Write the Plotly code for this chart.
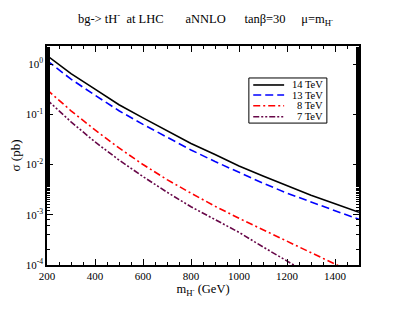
import plotly.graph_objects as go

m_H = [200, 300, 400, 500, 600, 700, 800, 900, 1000, 1100, 1200, 1300, 1400, 1500]
sigma_14 = [1.479, 0.6457, 0.3162, 0.1549, 0.0851, 0.04677, 0.02630, 0.01585, 0.009333,
            0.005888, 0.003802, 0.002455, 0.00166, 0.001122]
sigma_13 = [1.175, 0.5012, 0.2399, 0.1175, 0.0631, 0.03467, 0.01950, 0.01148, 0.006918,
            0.004266, 0.002692, 0.001778, 0.001202, 0.000813]
sigma_8 = [0.309, 0.1175, 0.04898, 0.02138, 0.0100, 0.005012, 0.002692, 0.001479, 0.000851,
           0.000501, 0.000295, 0.000174, 0.000102, 0.0000617]
sigma_7 = [0.195, 0.0708, 0.02818, 0.01230, 0.005754, 0.002818, 0.001445, 0.000794, 0.000447,
           0.000229, 0.0001175, 0.0000631, 0.000035, 0.00002]

series_names = ["14 TeV", "13 TeV", "8 TeV", "7 TeV"]
series_values = [sigma_14, sigma_13, sigma_8, sigma_7]
series_colors = ["#000000", "#0000ff", "#ff0000", "#670748"]
series_dashes = ["solid", "8px,4px", "7px,3px,2px,3px", "6px,2px,2px,2px,2px,2px"]

y_tickvals = [1e-4, 1e-3, 1e-2, 1e-1, 1]
y_ticktext = ["10<sup>-4</sup>", "10<sup>-3</sup>", "10<sup>-2</sup>", "10<sup>-1</sup>", "10<sup>0</sup>"]
x_tickvals = [200, 400, 600, 800, 1000, 1200, 1400]

serif = "'Liberation Serif', 'Times New Roman', serif"
NB = "\u00a0"

fig = go.Figure()
for name, ys, color, dash in zip(series_names, series_values, series_colors, series_dashes):
    fig.add_trace(go.Scatter(x=m_H, y=ys, mode="lines", name=name, showlegend=False,
                             line=dict(color=color, width=1.6, dash=dash)))

# hand-drawn legend box (paper coordinates)
shapes = [dict(type="rect", xref="paper", yref="paper", x0=0.647, x1=0.897, y0=0.648, y1=0.854,
               line=dict(color="black", width=1), fillcolor="white", layer="above")]
annotations = []
row_y = [0.822, 0.776, 0.727, 0.677]
for name, color, dash, yy in zip(series_names, series_colors, series_dashes, row_y):
    shapes.append(dict(type="line", xref="paper", yref="paper", x0=0.661, x1=0.760, y0=yy, y1=yy,
                       line=dict(color=color, width=1.6, dash=dash), layer="above"))
    annotations.append(dict(xref="paper", yref="paper", x=0.888, y=yy, xanchor="right",
                            yanchor="middle", text=name, showarrow=False, borderpad=0,
                            font=dict(family=serif, size=10.5, color="black")))

title_text = ("bg-> tH<sup>-</sup>" + NB * 2 + "at LHC" + NB * 7 + "aNNLO" + NB * 6 + "tanβ=30"
              + NB * 5 + "μ=m<sub>H<sup>-</sup></sub>")

fig.update_layout(
    width=395, height=304,
    paper_bgcolor="white", plot_bgcolor="white",
    margin=dict(l=39, r=44, t=38, b=47, autoexpand=False),
    font=dict(family=serif, size=12, color="black"),
    title=dict(text=title_text,
               x=0.5, xanchor="center", y=0.965, yanchor="middle", yref="container",
               font=dict(family=serif, size=12.5, color="black")),
    showlegend=False,
    shapes=shapes,
    annotations=annotations,
)

fig.update_xaxes(
    range=[200, 1500], tickvals=x_tickvals, ticks="inside", ticklen=6, tickwidth=1,
    tickcolor="black", showline=True, linecolor="black", linewidth=1.5, mirror="ticks",
    showgrid=False, zeroline=False, tickfont=dict(family=serif, size=11),
    minor=dict(dtick=50, ticks="inside", ticklen=3, tickcolor="black", showgrid=False),
    title=dict(text="m<sub>H<sup>-</sup></sub> (GeV)", font=dict(family=serif, size=12.5), standoff=1),
)
fig.update_yaxes(
    type="log", range=[-4, 0.36], tickvals=y_tickvals, ticktext=y_ticktext,
    ticks="inside", ticklen=6, tickwidth=1, tickcolor="black", showline=True,
    linecolor="black", linewidth=1.5, mirror="ticks", showgrid=False, zeroline=False,
    tickfont=dict(family=serif, size=11),
    minor=dict(ticks="inside", ticklen=3, tickcolor="black", showgrid=False),
    title=dict(text="σ (pb)", font=dict(family=serif, size=13), standoff=6),
)

fig.write_html("out.html")
